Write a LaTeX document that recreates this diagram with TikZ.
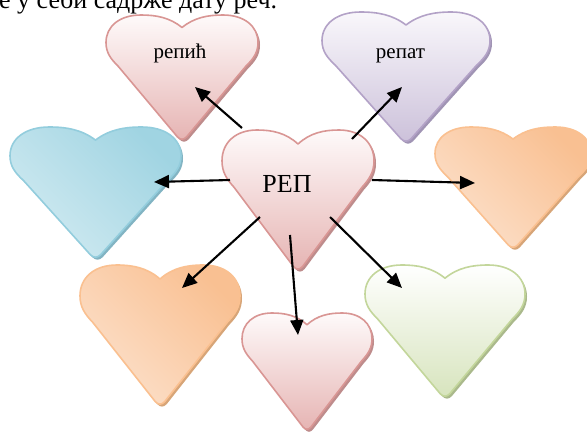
\documentclass[tikz,border=0pt]{standalone}
\usepackage{fontspec}
\setmainfont{Liberation Serif}
\usetikzlibrary{arrows.meta}
\definecolor{pinkB}{RGB}{217,150,148}
\definecolor{pinkT}{RGB}{254,250,250}
\definecolor{pinkL}{RGB}{230,180,179}
\definecolor{pinkS}{RGB}{190,140,140}
\definecolor{purB}{RGB}{179,162,199}
\definecolor{purT}{RGB}{249,247,251}
\definecolor{purL}{RGB}{204,193,218}
\definecolor{purS}{RGB}{160,148,180}
\definecolor{grnB}{RGB}{195,214,155}
\definecolor{grnT}{RGB}{255,255,255}
\definecolor{grnL}{RGB}{215,228,189}
\definecolor{grnS}{RGB}{170,185,140}
\definecolor{bluB}{RGB}{147,205,221}
\definecolor{bluT}{RGB}{226,242,247}
\definecolor{bluD}{RGB}{160,212,226}
\definecolor{bluM}{RGB}{208,234,241}
\definecolor{bluS}{RGB}{130,180,195}
\definecolor{orgB}{RGB}{250,192,144}
\definecolor{orgT}{RGB}{254,239,228}
\definecolor{orgD}{RGB}{249,192,146}
\definecolor{orgM}{RGB}{252,224,202}
\definecolor{orgS}{RGB}{215,165,120}
\newcommand\hrtpath{(0.5,0.10) .. controls (0.42,0.02) and (0.33,0) .. (0.23,0)
  .. controls (0.09,0) and (0,0.09) .. (0,0.22)
  .. controls (0,0.30) and (0.03,0.35) .. (0.08,0.41)
  -- (0.47,0.975) .. controls (0.49,1.0) and (0.51,1.0) .. (0.53,0.975)
  -- (0.92,0.41) .. controls (0.97,0.35) and (1,0.30) .. (1,0.22)
  .. controls (1,0.09) and (0.91,0) .. (0.77,0)
  .. controls (0.67,0) and (0.58,0.02) .. (0.5,0.10) -- cycle}
\newcommand\drawheart[7]{%
  \begin{scope}[shift={(#1+2,#2+2.5)},xscale=#3,yscale=#4]
    \fill[#5,line join=round] \hrtpath;
  \end{scope}
  \begin{scope}[shift={(#1,#2)},xscale=#3,yscale=#4]
    \shadedraw[draw=#6,line width=1.6pt,line join=round,#7] \hrtpath;
  \end{scope}}
\begin{document}
\begin{tikzpicture}[x=1pt,y=-1pt,
  arr/.style={line width=2.1pt,-{Triangle[length=15pt,width=13pt]}},
  lbl/.style={anchor=base,inner sep=0pt,font=\fontsize{21}{24}\selectfont},
  vsh/.style 2 args={top color=#1,bottom color=#2},
  dsh/.style n args={3}{top color=#1,middle color=#2,bottom color=#3,shading angle=-45}]
\useasboundingbox (0,0) rectangle (587,432);
\clip (0,0) rectangle (587,432);
\fill[white] (0,0) rectangle (587,432);
\node[anchor=base west,inner sep=0pt,font=\fontsize{26}{30}\selectfont] (title) at (-1,8) {е у себи садрже дату реч.};
% hearts
\drawheart{106}{15}{152}{125}{pinkS}{pinkB}{vsh={pinkT}{pinkL}}
\drawheart{322}{12}{168}{130}{purS}{purB}{vsh={purT}{purL}}
\drawheart{10}{127}{171}{131}{bluS}{bluB}{dsh={bluD}{bluT}{bluM}}
\drawheart{435}{127}{156}{121}{orgS}{orgB}{dsh={orgD}{orgT}{orgM}}
\drawheart{80}{265}{160}{140}{orgS}{orgB}{dsh={orgD}{orgT}{orgM}}
\drawheart{365}{265}{160}{132}{grnS}{grnB}{vsh={grnT}{grnL}}
\drawheart{242}{313}{130}{117}{pinkS}{pinkB}{vsh={pinkT}{pinkL}}
\drawheart{222}{130}{152}{140}{pinkS}{pinkB}{vsh={pinkT}{pinkL}}
% labels
\node[lbl] (h1) at (180,58) {репић};
\node[lbl] (h2) at (400.5,58) {репат};
\node[lbl,font=\fontsize{26}{30}\selectfont] (hc) at (287,192) {РЕП};
% arrow ends
\coordinate (s1) at (242,128); \coordinate (t1) at (195,87);
\coordinate (s2) at (352,139); \coordinate (t2) at (402,87);
\coordinate (s3) at (230,180); \coordinate (t3) at (154,182);
\coordinate (s4) at (372,180); \coordinate (t4) at (475,183);
\coordinate (s5) at (260,217); \coordinate (t5) at (182,288);
\coordinate (s6) at (290,235); \coordinate (t6) at (298,335);
\coordinate (s7) at (330,217); \coordinate (t7) at (402,288);
\foreach \i in {1,...,7} {\draw[arr] (s\i) -- (t\i);}
\end{tikzpicture}
\end{document}
